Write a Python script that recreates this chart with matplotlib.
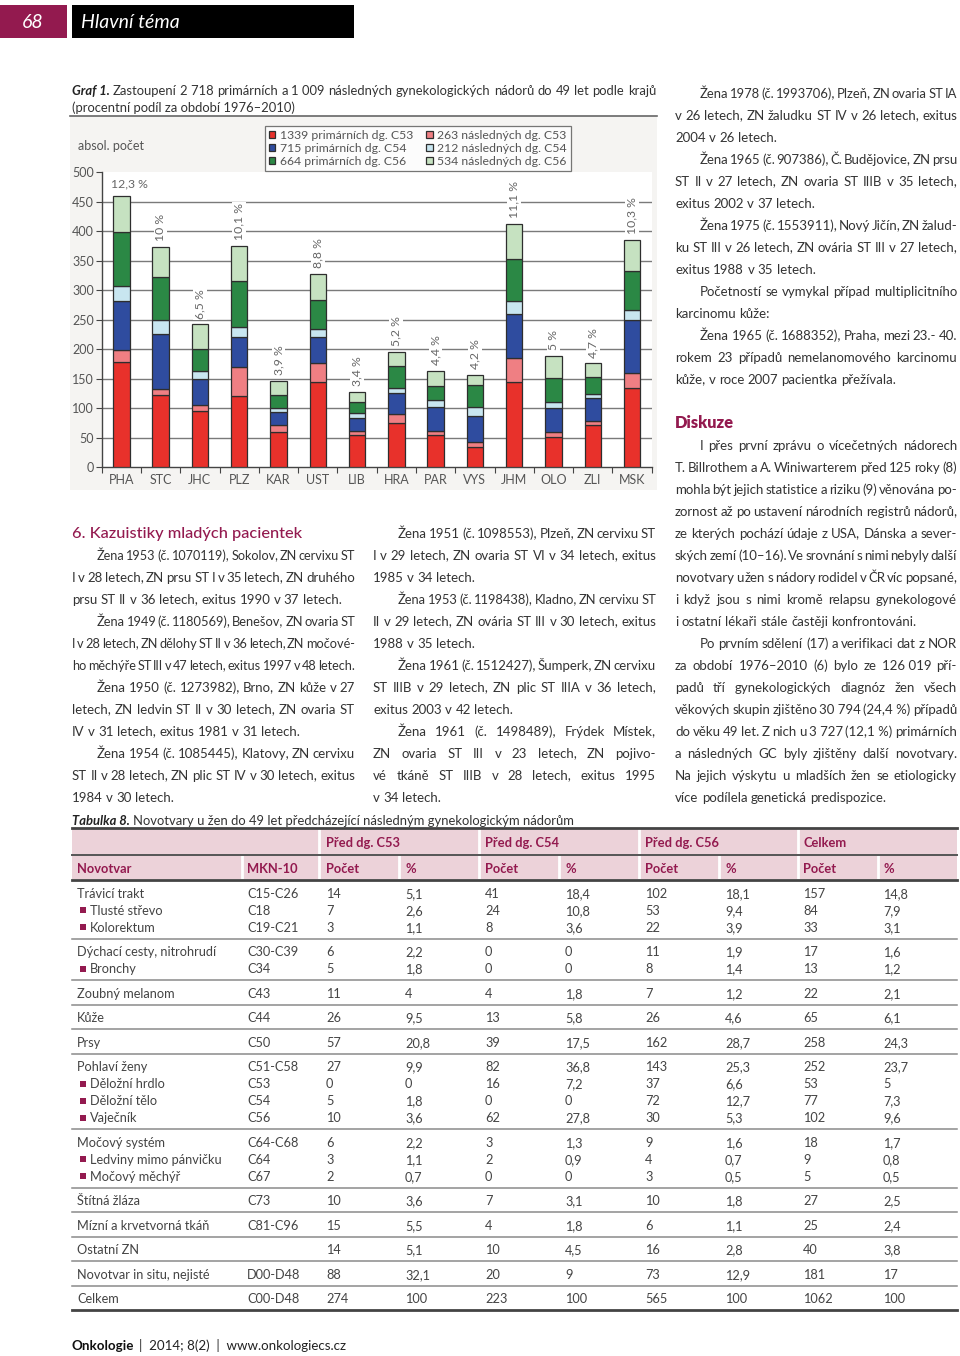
import matplotlib
matplotlib.use('Agg')
import matplotlib.pyplot as plt
from matplotlib.patches import Rectangle
from matplotlib.lines import Line2D
from matplotlib import font_manager as fm
import numpy as np

# ---------------- data ----------------
regions = ["PHA", "STC", "JHC", "PLZ", "KAR", "UST", "LIB", "HRA", "PAR", "VYS", "JHM", "OLO", "ZLI", "MSK"]
prim_c53 = [178, 123, 95, 120, 60, 144, 54, 75, 55, 35, 145, 51, 71, 134]
nasl_c53 = [20, 10, 10, 50, 11, 33, 7, 16, 7, 8, 41, 8, 8, 26]
prim_c54 = [84, 93, 45, 51, 23, 43, 22, 35, 41, 44, 74, 42, 38, 89]
nasl_c54 = [26, 24, 13, 17, 7, 14, 9, 9, 11, 15, 21, 10, 8, 18]
prim_c56 = [90, 72, 38, 78, 22, 49, 18, 37, 24, 38, 72, 40, 28, 66]
nasl_c56 = [61, 51, 41, 59, 24, 44, 17, 23, 25, 16, 60, 37, 23, 52]
pct_labels = ["12,3 %", "10 %", "6,5 %", "10,1 %", "3,9 %", "8,8 %", "3,4 %", "5,2 %",
              "4,4 %", "4,2 %", "11,1 %", "5 %", "4,7 %", "10,3 %"]
series_labels = ["1339 primárních dg. C53", "263 následných dg. C53",
                 "715 primárních dg. C54", "212 následných dg. C54",
                 "664 primárních dg. C56", "534 následných dg. C56"]
series_colors = ["#e8312b", "#ef7f83", "#2f4c9f", "#c8e6f0", "#2b8845", "#c6e2c1"]
yticks = [0, 50, 100, 150, 200, 250, 300, 350, 400, 450, 500]

col1_paras = [
    ["Žena 1953 (č. 1070119), Sokolov, ZN cervixu ST",
     "I v 28 letech, ZN prsu ST I v 35 letech, ZN druhého",
     "prsu ST II v 36 letech, exitus 1990 v 37 letech."],
    ["Žena 1949 (č. 1180569), Benešov, ZN ovaria ST",
     "I v 28 letech, ZN dělohy ST II v 36 letech, ZN močové-",
     "ho měchýře ST III v 47 letech, exitus 1997 v 48 letech."],
    ["Žena 1950 (č. 1273982), Brno, ZN kůže v 27",
     "letech, ZN ledvin ST II v 30 letech, ZN ovaria ST",
     "IV v 31 letech, exitus 1981 v 31 letech."],
    ["Žena 1954 (č. 1085445), Klatovy, ZN cervixu",
     "ST II v 28 letech, ZN plic ST IV v 30 letech, exitus",
     "1984 v 30 letech."],
]
col2_paras = [
    ["Žena 1951 (č. 1098553), Plzeň, ZN cervixu ST",
     "I v 29 letech, ZN ovaria ST VI v 34 letech, exitus",
     "1985 v 34 letech."],
    ["Žena 1953 (č. 1198438), Kladno, ZN cervixu ST",
     "II v 29 letech, ZN ovária ST III v 30 letech, exitus",
     "1988 v 35 letech."],
    ["Žena 1961 (č. 1512427), Šumperk, ZN cervixu",
     "ST IIIB v 29 letech, ZN plic ST IIIA v 36 letech,",
     "exitus 2003 v 42 letech."],
    ["Žena 1961 (č. 1498489), Frýdek Místek,",
     "ZN ovaria ST III v 23 letech, ZN pojivo-",
     "vé tkáně ST IIIB v 28 letech, exitus 1995",
     "v 34 letech."],
]
col3_paras = [
    ["Žena 1978 (č. 1993706), Plzeň, ZN ovaria ST IA",
     "v 26 letech, ZN žaludku ST IV v 26 letech, exitus",
     "2004 v 26 letech."],
    ["Žena 1965 (č. 907386), Č. Budějovice, ZN prsu",
     "ST II v 27 letech, ZN ovaria ST IIIB v 35 letech,",
     "exitus 2002 v 37 letech."],
    ["Žena 1975 (č. 1553911), Nový Jičín, ZN žalud-",
     "ku ST III v 26 letech, ZN ovária ST III v 27 letech,",
     "exitus 1988 v 35 letech."],
    ["Početností se vymykal případ multiplicitního",
     "karcinomu kůže:"],
    ["Žena 1965 (č. 1688352), Praha, mezi 23.- 40.",
     "rokem 23 případů nemelanomového karcinomu",
     "kůže, v roce 2007 pacientka přežívala."],
]
disk_paras = [
    ["I přes první zprávu o vícečetných nádorech",
     "T. Billrothem a A. Winiwarterem před 125 roky (8)",
     "mohla být jejich statistice a riziku (9) věnována po-",
     "zornost až po ustavení národních registrů nádorů,",
     "ze kterých pochází údaje z USA, Dánska a sever-",
     "ských zemí (10–16). Ve srovnání s nimi nebyly další",
     "novotvary u žen s nádory rodidel v ČR víc popsané,",
     "i když jsou s nimi kromě relapsu gynekologové",
     "i ostatní lékaři stále častěji konfrontováni."],
    ["Po prvním sdělení (17) a verifikaci dat z NOR",
     "za období 1976–2010 (6) bylo ze 126\u00a0019 pří-",
     "padů tří gynekologických diagnóz žen všech",
     "věkových skupin zjištěno 30\u00a0794 (24,4\u00a0%) případů",
     "do věku 49 let. Z nich u 3\u00a0727 (12,1\u00a0%) primárních",
     "a následných GC byly zjištěny další novotvary.",
     "Na jejich výskytu u mladších žen se etiologicky",
     "více podílela genetická predispozice."],
]

tab_head1 = ["Před dg. C53", "Před dg. C54", "Před dg. C56", "Celkem"]
tab_head2 = ["Novotvar", "MKN-10", "Počet", "%", "Počet", "%", "Počet", "%", "Počet", "%"]
tab_names = ["Trávicí trakt", "Tlusté střevo", "Kolorektum", "Dýchací cesty, nitrohrudí", "Bronchy",
             "Zoubný melanom", "Kůže", "Prsy", "Pohlaví ženy", "Děložní hrdlo", "Děložní tělo",
             "Vaječník", "Močový systém", "Ledviny mimo pánvičku", "Močový měchýř", "Štítná žláza",
             "Mízní a krvetvorná tkáň", "Ostatní ZN", "Novotvar in situ, nejisté", "Celkem"]
tab_sub = [0, 1, 1, 0, 1, 0, 0, 0, 0, 1, 1, 1, 0, 1, 1, 0, 0, 0, 0, 0]
tab_groups = [3, 2, 1, 1, 1, 4, 3, 1, 1, 1, 1, 1]
tab_codes = ["C15-C26", "C18", "C19-C21", "C30-C39", "C34", "C43", "C44", "C50", "C51-C58", "C53",
             "C54", "C56", "C64-C68", "C64", "C67", "C73", "C81-C96", "", "D00-D48", "C00-D48"]
c53_n = [14, 7, 3, 6, 5, 11, 26, 57, 27, 0, 5, 10, 6, 3, 2, 10, 15, 14, 88, 274]
c53_p = ["5,1", "2,6", "1,1", "2,2", "1,8", "4", "9,5", "20,8", "9,9", "0", "1,8", "3,6", "2,2",
         "1,1", "0,7", "3,6", "5,5", "5,1", "32,1", "100"]
c54_n = [41, 24, 8, 0, 0, 4, 13, 39, 82, 16, 0, 62, 3, 2, 0, 7, 4, 10, 20, 223]
c54_p = ["18,4", "10,8", "3,6", "0", "0", "1,8", "5,8", "17,5", "36,8", "7,2", "0", "27,8", "1,3",
         "0,9", "0", "3,1", "1,8", "4,5", "9", "100"]
c56_n = [102, 53, 22, 11, 8, 7, 26, 162, 143, 37, 72, 30, 9, 4, 3, 10, 6, 16, 73, 565]
c56_p = ["18,1", "9,4", "3,9", "1,9", "1,4", "1,2", "4,6", "28,7", "25,3", "6,6", "12,7", "5,3",
         "1,6", "0,7", "0,5", "1,8", "1,1", "2,8", "12,9", "100"]
tot_n = [157, 84, 33, 17, 13, 22, 65, 258, 252, 53, 77, 102, 18, 9, 5, 27, 25, 40, 181, 1062]
tot_p = ["14,8", "7,9", "3,1", "1,6", "1,2", "2,1", "6,1", "24,3", "23,7", "5", "7,3", "9,6", "1,7",
         "0,8", "0,5", "2,5", "2,4", "3,8", "17", "100"]

# ---------------- font choice (needs full Czech coverage) ----------------
all_text = "".join(s for p in col1_paras + col2_paras + col3_paras + disk_paras for s in p)
all_text += "".join(tab_names) + "".join(series_labels) + "ŽžčČřŘěĚňůšŠťďí–"


def covers(fam):
    try:
        from fontTools.ttLib import TTFont
        path = fm.findfont(fm.FontProperties(family=fam), fallback_to_default=False)
        cmap = TTFont(path, fontNumber=0).getBestCmap()
        return all(ord(c) in cmap for c in set(all_text) if not c.isspace())
    except Exception:
        return False


FAM = 'DejaVu Sans'
for cand in ['Lato', 'Open Sans', 'Noto Sans', 'Roboto']:
    if covers(cand):
        FAM = cand
        break
plt.rcParams['font.family'] = [FAM, 'DejaVu Sans']

# ---------------- helpers ----------------
W, H = 960, 1356
fig = plt.figure(figsize=(W / 100, H / 100), dpi=100)
fig.patch.set_facecolor('white')
renderer = fig.canvas.get_renderer()

MAG = '#931a4f'
BODY = '#333333'
BL = 4.6  # offset from visual line centre to baseline (px)
SCALE = 1.0 if FAM == 'Lato' else 0.93


def fx(x):
    return x / W


def fy(y):
    return 1 - y / H


def rect(x0, y0, x1, y1, color, z=0):
    fig.patches.append(Rectangle((fx(x0), fy(y1)), (x1 - x0) / W, (y1 - y0) / H,
                                 transform=fig.transFigure, facecolor=color,
                                 edgecolor='none', zorder=z))


def hline(x0, x1, y, color, lw, z=2):
    fig.add_artist(Line2D([fx(x0), fx(x1)], [fy(y), fy(y)], transform=fig.transFigure,
                          color=color, lw=lw, zorder=z))


def vline(x, y0, y1, color, lw, z=2):
    fig.add_artist(Line2D([fx(x), fx(x)], [fy(y0), fy(y1)], transform=fig.transFigure,
                          color=color, lw=lw, zorder=z))


def txt(x, y, s, off=BL, **kw):
    """y is the visual centre of the text line; text is placed on a baseline."""
    kw.setdefault('va', 'baseline')
    kw.setdefault('ha', 'left')
    return fig.text(fx(x), fy(y + off), s, **kw)


def width(s, **kw):
    t = fig.text(0, 0, s, **kw)
    w = t.get_window_extent(renderer).width
    t.remove()
    return w


def tline(x0, x1, y, s, justify, fs, color=BODY, **kw):
    words = s.split(' ')
    n = len(words)

    def metrics(f):
        sp = width('a a', fontsize=f, **kw) - width('aa', fontsize=f, **kw)
        ws = [width(w, fontsize=f, **kw) for w in words]
        return sp, ws
    sp, ws = metrics(fs)
    avail = x1 - x0
    min_gap = 0.38 * sp
    need = sum(ws) + min_gap * (n - 1)
    if need > avail:
        fs = fs * (avail - min_gap * (n - 1)) / sum(ws) * 0.997
        sp, ws = metrics(fs)
        min_gap = 0.38 * sp
    if n > 1:
        fill = (avail - sum(ws)) / (n - 1)
        gap = fill if justify else min(sp, fill)
    else:
        gap = sp
    x = x0
    for w, wd in zip(words, ws):
        txt(x, y, w, fontsize=fs, color=color, **kw)
        x += wd + gap


def paragraphs(paras, x0, x1, y0, step=22, indent=25, fs=9.5 * SCALE):
    y = y0
    for p in paras:
        for i, s in enumerate(p):
            last = i == len(p) - 1
            tline(x0 + (indent if i == 0 else 0), x1, y, s, not last, fs)
            y += step
    return y


# ---------------- header ----------------
rect(0, 5, 67, 38, MAG)
rect(72, 5, 354, 38, 'black')
txt(33, 22, "68", off=5.5, color='white', fontsize=14 * SCALE, style='italic', ha='center')
txt(81, 22, "Hlavní téma", off=5.5, color='white', fontsize=14 * SCALE, style='italic')

# ---------------- graph caption ----------------
CFS = 9.4 * SCALE
cap_b = "Graf 1."
txt(72, 90, cap_b, fontsize=CFS, fontweight='bold', style='italic', color='#222')
wb = width(cap_b, fontsize=CFS, fontweight='bold', style='italic')
tline(72 + wb + 3, 656, 90, "Zastoupení 2\u00a0718 primárních a 1\u00a0009 následných gynekologických nádorů do 49 let podle krajů",
      True, CFS)
txt(72, 107, "(procentní podíl za období 1976–2010)", fontsize=CFS, color=BODY)

# chart panel
rect(70, 116, 657, 490, '#f5f4f2', z=-1)
hline(70, 657, 116, '#666666', 1.2)
txt(78, 145, "absol. počet", fontsize=9 * SCALE, color='#555')

ax = fig.add_axes([fx(101.7), fy(467.3), (651.7 - 101.7) / W, (467.3 - 172.2) / H])
ax.set_facecolor('white')
x = np.arange(len(regions))
series = [prim_c53, nasl_c53, prim_c54, nasl_c54, prim_c56, nasl_c56]
bottom = np.zeros(len(regions))
handles = []
for vals, col, lab in zip(series, series_colors, series_labels):
    b = ax.bar(x, vals, width=0.42, bottom=bottom, color=col, edgecolor='#2e2e2e',
               linewidth=0.9, label=lab, zorder=3)
    handles.append(b)
    bottom += np.array(vals)
totals = bottom
ax.hlines(yticks[1:-1], -0.5, len(regions) - 0.5, color='#7a7a7a', lw=1.0, zorder=1)
PFS = 8.8 * SCALE
for i, (tot, lab) in enumerate(zip(totals, pct_labels)):
    if i == 0:
        ax.text(i + 0.2, tot + 21, lab, ha='center', va='center', fontsize=PFS, color='#666', zorder=4,
                bbox=dict(fc='white', ec='none', pad=1))
    else:
        ax.text(i, tot + 10, lab, ha='center', va='bottom', rotation=90, fontsize=PFS, color='#666',
                zorder=4, bbox=dict(fc='white', ec='none', pad=1))
ax.set_xlim(-0.5, len(regions) - 0.5)
ax.set_ylim(0, 500)
ax.set_yticks(yticks)
ax.set_xticks(np.arange(-0.5, len(regions), 1.0))
ax.set_xticklabels([])
ax.set_xticks(x, minor=True)
ax.set_xticklabels(regions, minor=True)
ax.tick_params(axis='x', which='minor', length=0, pad=5, labelsize=9 * SCALE, labelcolor='#555')
ax.tick_params(axis='x', which='major', length=4, color='#444')
ax.tick_params(axis='y', length=4, color='#444', labelsize=9 * SCALE, labelcolor='#555', pad=1.5)
for s in ['top', 'right']:
    ax.spines[s].set_visible(False)
for s in ['left', 'bottom']:
    ax.spines[s].set_color('#444')
    ax.spines[s].set_linewidth(1.0)

order = [0, 2, 4, 1, 3, 5]
leg = fig.legend([handles[k] for k in order], [series_labels[k] for k in order],
                 loc='upper left', bbox_to_anchor=(fx(265), fy(126)), ncol=2, frameon=True,
                 fancybox=False, edgecolor='#555', fontsize=8.8 * SCALE, handlelength=0.55,
                 handleheight=0.55, handletextpad=0.35, labelspacing=0.18, columnspacing=1.1,
                 borderpad=0.3, borderaxespad=0)
leg.get_frame().set_linewidth(0.9)
for tx in leg.get_texts():
    tx.set_color('#555')

# ---------------- text columns ----------------
txt(72, 533, "6. Kazuistiky mladých pacientek", off=5.5, fontsize=11.8 * SCALE, color=MAG, fontweight='medium')
paragraphs(col1_paras, 72, 355, 555)
paragraphs(col2_paras, 373, 656, 533)
paragraphs(col3_paras, 675, 957, 93)
txt(675, 422, "Diskuze", off=5.5, fontsize=11.8 * SCALE, color=MAG, fontweight='heavy')
paragraphs(disk_paras, 675, 957, 445)

# ---------------- table ----------------
cap_b = "Tabulka 8."
txt(72, 820, cap_b, fontsize=CFS, fontweight='bold', style='italic', color='#222')
wb = width(cap_b, fontsize=CFS, fontweight='bold', style='italic')
txt(72 + wb + 3, 820, "Novotvary u žen do 49 let předcházející následným gynekologickým nádorům",
    fontsize=CFS, color=BODY)

TX0, TX1 = 72, 957
PINK = '#ecd2d9'
cols_x = [77, 247, 326, 405, 485, 565, 645, 725, 803, 883]
bounds = [242, 319, 399, 479, 559, 639, 719, 798, 878]
rect(TX0, 829, TX1, 854, PINK)
rect(TX0, 856, TX1, 879, PINK)
for b in [319, 479, 639, 798]:
    vline(b, 829, 854, 'white', 2.0)
for b in bounds:
    vline(b, 856, 879, 'white', 2.0)
hline(TX0, TX1, 828, '#444', 2.0)
hline(TX0, TX1, 855, '#555', 1.4)
hline(TX0, TX1, 880, '#444', 2.0)
HFS = 9.3 * SCALE
for k, h in enumerate(tab_head1):
    txt(cols_x[2 + 2 * k], 842, h, fontsize=HFS, fontweight='bold', color=MAG)
for cx, h in zip(cols_x, tab_head2):
    txt(cx, 868, h, fontsize=HFS, fontweight='bold', color=MAG)

y = 893
r = 0
TFS = 9.2 * SCALE
TCOL = '#444'
for gi, g in enumerate(tab_groups):
    for j in range(g):
        name = tab_names[r]
        yb = round(y + BL)
        if tab_sub[r]:
            rect(80, y - 3, 86, y + 3, MAG)
            txt(90, yb, name, off=0, fontsize=TFS, color=TCOL)
        else:
            txt(cols_x[0], yb, name, off=0, fontsize=TFS, color=TCOL)
        vals = [tab_codes[r], c53_n[r], c53_p[r], c54_n[r], c54_p[r], c56_n[r], c56_p[r], tot_n[r], tot_p[r]]
        for cx, v in zip(cols_x[1:], vals):
            txt(cx, yb, str(v), off=0, fontsize=TFS, color=TCOL)
        r += 1
        if j < g - 1:
            y += 17
    last = gi == len(tab_groups) - 1
    hline(TX0, TX1, y + 11.5, '#444' if last else '#8a8a8a', 2.0 if last else 1.1)
    y += 24.5

# ---------------- footer ----------------
FFS = 9.6 * SCALE
fb = "Onkologie"
txt(72, 1345, fb, fontsize=FFS, fontweight='bold', color='#111')
wb = width(fb, fontsize=FFS, fontweight='bold')
txt(72 + wb + 5, 1345, "|  2014; 8(2)  |  www.onkologiecs.cz", fontsize=FFS, color='#222')

fig.savefig('out.png', dpi=100)
